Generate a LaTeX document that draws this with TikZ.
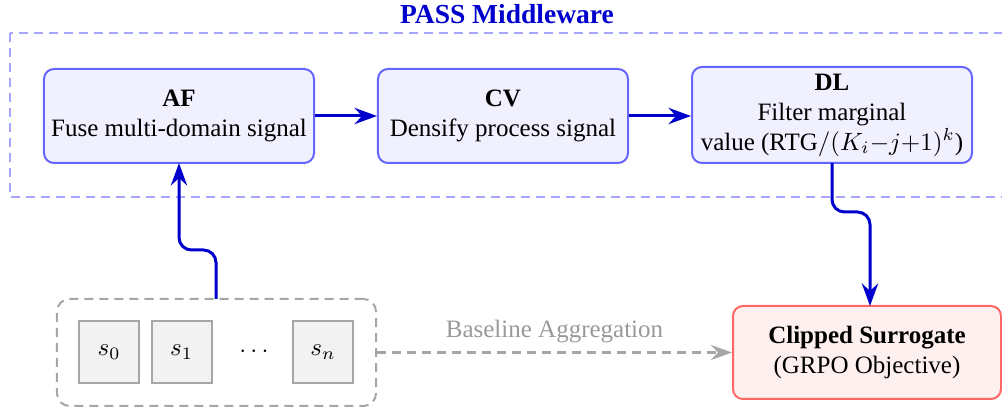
\documentclass[tikz,border=0pt]{standalone}
\usepackage{fontspec}
\setmainfont{Liberation Serif}
\usetikzlibrary{arrows.meta}
\definecolor{arrowblue}{RGB}{0,0,204}
\tikzset{
  mod/.style={draw=blue!60, fill=blue!6, line width=0.8pt, rounded corners=4pt, align=center, inner sep=0pt},
  obj/.style={draw=red!60, fill=red!6, line width=0.8pt, rounded corners=4pt, align=center, inner sep=0pt},
  sbox/.style={draw=gray!70, fill=gray!10, line width=0.8pt, minimum width=24pt, minimum height=24.8pt, inner sep=0pt},
  grp/.style={draw=gray!70, dashed, dash pattern=on 3.6pt off 2.4pt, line width=0.8pt, rounded corners=5pt, minimum width=127.6pt, minimum height=42.8pt},
  flow/.style={draw=arrowblue, line width=1.2pt, -{Stealth[length=9pt,width=6.5pt,inset=3pt]}, rounded corners=5pt},
  base/.style={draw=gray!70, line width=1.2pt, dash pattern=on 3.6pt off 2.4pt, -{Stealth[length=8.5pt,width=6pt,inset=3pt]}},
}
\begin{document}
\begin{tikzpicture}[x=0.4pt,y=-0.4pt]
\useasboundingbox (0,0) rectangle (1002,412);
\clip (0,0) rectangle (1002,412);
% outer dashed region
\draw[draw=blue!35, line width=0.9pt, dash pattern=on 3.6pt off 2.4pt] (10,33) rectangle (1010,197);
\node[font=\fontsize{11}{13}\selectfont\bfseries, text=arrowblue] (title) at (507,14) {PASS Middleware};
% modules
\node[mod, minimum width=108pt, minimum height=37.6pt] (af) at (179,116) {\textbf{AF}\\Fuse multi-domain signal};
\node[mod, minimum width=100pt, minimum height=37.6pt] (cv) at (503,116) {\textbf{CV}\\Densify process signal};
\node[mod, minimum width=112pt, minimum height=38.4pt] (dl) at (832,115) {\textbf{DL}\\Filter marginal\\value (RTG$/(K_i{-}j{+}1)^k$)};
\node[obj, minimum width=107.2pt, minimum height=37.2pt] (obj) at (867,352.5) {\textbf{Clipped Surrogate}\\(GRPO Objective)};
% group of states
\node[grp] (grp) at (216.5,352.5) {};
\node[sbox] (s0) at (109,352) {$s_0$};
\node[sbox] (s1) at (181.5,352) {$s_1$};
\node (dots) at (254,352) {$\cdots$};
\node[sbox] (sn) at (323,352) {$s_n$};
% connectors
\draw[flow] (af.east) -- (cv.west);
\draw[flow] (cv.west -| cv.east) -- (dl.west |- cv.east);
\coordinate (gtop) at (216,299);
\coordinate (afin) at (179,163);
\draw[flow] (gtop) -- (216,250) -- (179,250) -- (afin);
\coordinate (dlout) at (832,163);
\coordinate (objin) at (870,306);
\draw[flow] (dlout) -- (832,212) -- (870,212) -- (objin);
\draw[base] (grp.east) -- node[above=0pt, text=gray!80] {Baseline Aggregation} (obj.west |- grp.east);
\end{tikzpicture}
\end{document}
